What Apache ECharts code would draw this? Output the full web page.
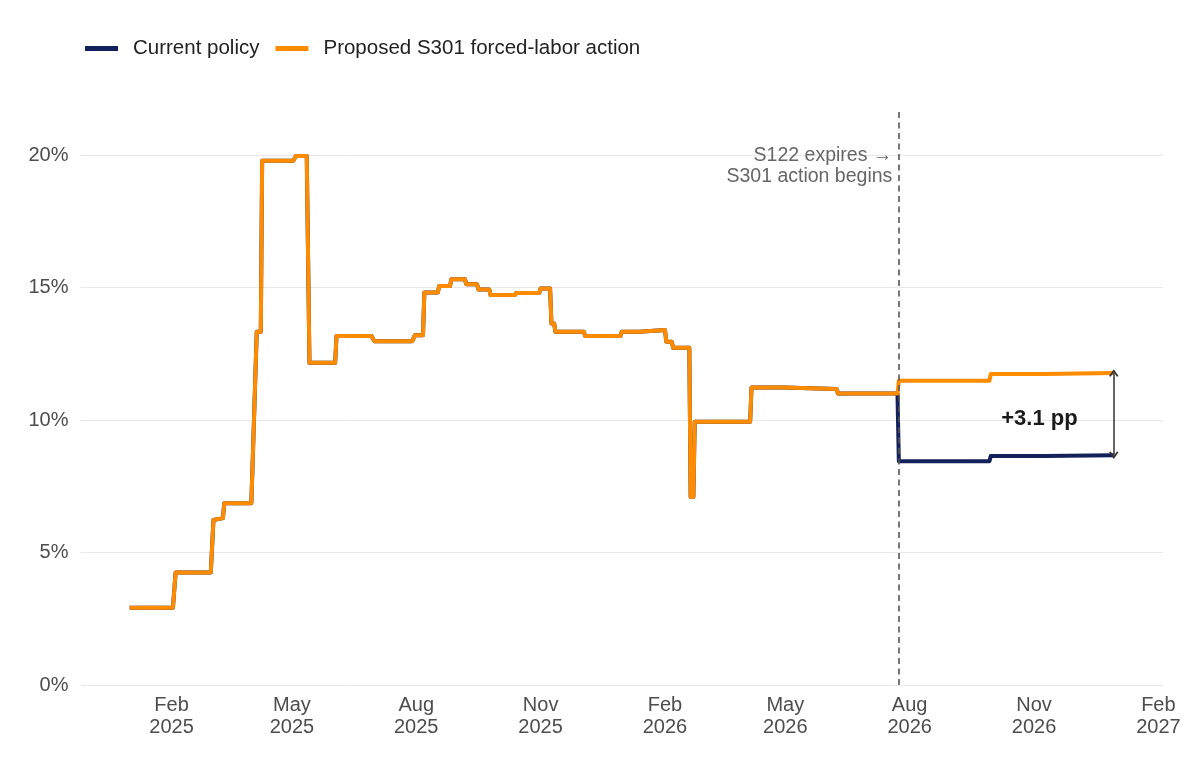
<!DOCTYPE html>
<html>
<head>
<meta charset="utf-8">
<script src="https://cdn.jsdelivr.net/npm/echarts@6/dist/echarts.min.js"></script>
<style>
html,body{margin:0;padding:0;background:#fff;}
#chart{width:1200px;height:766px;}
</style>
</head>
<body>
<div id="chart"></div>
<script>
// ---- Data (effective tariff rate, %) ----
const seriesNames = ['Current policy', 'Proposed S301 forced-labor action'];

// Shared history (both scenarios identical until S122 expiry)
const historyDates = [
  '2025-01-01','2025-02-02','2025-02-04','2025-03-02','2025-03-04','2025-03-05','2025-03-11','2025-03-12',
  '2025-04-01','2025-04-02','2025-04-03','2025-04-05','2025-04-08','2025-04-09','2025-05-02','2025-05-04',
  '2025-05-12','2025-05-14','2025-06-02','2025-06-03','2025-06-29','2025-07-01','2025-07-29','2025-07-31',
  '2025-08-06','2025-08-07','2025-08-17','2025-08-18','2025-08-26','2025-08-27','2025-09-06','2025-09-07',
  '2025-09-15','2025-09-16','2025-09-24','2025-09-25','2025-10-13','2025-10-14','2025-10-31','2025-11-01',
  '2025-11-08','2025-11-09','2025-11-11','2025-11-12','2025-12-03','2025-12-04','2025-12-30','2025-12-31',
  '2026-01-13','2026-01-14','2026-02-01','2026-02-02','2026-02-06','2026-02-07','2026-02-19','2026-02-20',
  '2026-02-22','2026-02-23','2026-04-05','2026-04-06','2026-04-30','2026-05-01','2026-06-08','2026-06-09',
  '2026-07-23'
];
const historyValues = [
  2.92, 2.92, 4.25, 4.25, 6.23, 6.30, 6.30, 6.86,
  6.86, 8.43, 8.43, 13.33, 13.33, 19.79, 19.79, 19.97,
  19.97, 12.16, 12.16, 13.17, 13.17, 12.98, 12.98, 13.20,
  13.20, 14.82, 14.82, 15.06, 15.06, 15.32, 15.32, 15.13,
  15.13, 14.93, 14.93, 14.72, 14.72, 14.80, 14.80, 14.97,
  14.97, 13.65, 13.65, 13.33, 13.33, 13.17, 13.17, 13.33,
  13.33, 13.40, 13.40, 12.96, 12.96, 12.73, 12.73, 7.10,
  7.10, 9.94, 9.94, 11.23, 11.23, 11.17, 11.17, 11.00,
  11.00
];

// Scenario tails after S122 expiry
const tailDates = ['2026-07-24','2026-09-29','2026-09-30','2026-11-09','2026-11-10','2026-12-30'];
const currentTail  = [8.45, 8.45, 8.64, 8.64, 8.67, 8.67];
const proposedTail = [11.48, 11.48, 11.74, 11.74, 11.78, 11.78];

const yTicks = [0, 5, 10, 15, 20];
const xTickDates = ['2025-02-01','2025-05-01','2025-08-01','2025-11-01','2026-02-01','2026-05-01','2026-08-01','2026-11-01','2027-02-01'];
const monthNames = ['Jan','Feb','Mar','Apr','May','Jun','Jul','Aug','Sep','Oct','Nov','Dec'];

const s122Date = '2026-07-24';
const annotationText = 'S122 expires \u2192\nS301 action begins';
const annotationValue = 19.6;
const gapLabel = '+3.1 pp';
const gapLabelDate = '2026-11-05';
const gapLabelValue = 10.06;

// ---- Helpers ----
function ts(s) { const p = s.split('-').map(Number); return Date.UTC(p[0], p[1] - 1, p[2]); }
function zip(dates, vals) { return dates.map((d, i) => [ts(d), vals[i]]); }

const currentData = zip(historyDates, historyValues).concat(zip(tailDates, currentTail));
const proposedData = zip(historyDates, historyValues).concat(zip(tailDates, proposedTail));
const endDate = ts(tailDates[tailDates.length - 1]);

const FONT = '"Liberation Sans", Arial, sans-serif';
const chart = echarts.init(document.getElementById('chart'), null, {renderer: 'canvas'});

const chevron = 'path://M0,8.6 L5,0 L10,8.6 L8.3,9.6 L5,3.9 L1.7,9.6 Z';

chart.setOption({
  animation: false,
  backgroundColor: '#ffffff',
  textStyle: {fontFamily: FONT},
  legend: {
    left: 80, top: 33,
    icon: 'rect', itemWidth: 33, itemHeight: 5, itemGap: 16,
    textStyle: {fontSize: 20.5, color: '#222222', fontFamily: FONT, padding: [0, 0, 0, 10]},
    data: seriesNames
  },
  grid: {left: 81, right: 37, top: 108, bottom: 81, containLabel: false, outerBoundsMode: 'none'},
  xAxis: {
    type: 'value',
    min: Date.UTC(2024, 10, 26, 0),
    max: Date.UTC(2027, 1, 4, 10),
    axisLine: {show: false},
    axisTick: {show: false, customValues: xTickDates.map(ts)},
    splitLine: {show: false},
    axisLabel: {
      customValues: xTickDates.map(ts),
      margin: 9,
      fontSize: 20,
      lineHeight: 22,
      color: '#4d4d4d',
      fontFamily: FONT,
      hideOverlap: false,
      showMinLabel: true, showMaxLabel: true,
      formatter: function (v) { const d = new Date(v); return monthNames[d.getUTCMonth()] + '\n' + d.getUTCFullYear(); }
    }
  },
  yAxis: {
    type: 'value',
    min: 0, max: 21.78, interval: 5,
    axisLine: {show: false},
    axisTick: {show: false, customValues: yTicks},
    splitLine: {show: true, lineStyle: {color: '#e8e8e8', width: 1}},
    axisLabel: {
      customValues: yTicks,
      margin: 12.5,
      fontSize: 20,
      color: '#4d4d4d',
      fontFamily: FONT,
      formatter: function (v) { return v + '%'; }
    }
  },
  series: [
    {
      name: seriesNames[0],
      type: 'line',
      data: currentData,
      showSymbol: false, symbol: 'none',
      color: '#13215a',
      lineStyle: {color: '#13215a', width: 4, cap: 'butt', join: 'round'},
      z: 2,
      markLine: {
        silent: true,
        animation: false,
        symbol: ['circle', 'circle'],
        symbolSize: 0,
        label: {show: false},
        lineStyle: {color: '#555555', width: 1.6, type: [6, 4.5]},
        data: [{xAxis: ts(s122Date)}]
      }
    },
    {
      name: seriesNames[1],
      type: 'line',
      data: proposedData,
      showSymbol: false, symbol: 'none',
      color: '#ff8c00',
      lineStyle: {color: '#ff8c00', width: 4, cap: 'butt', join: 'round'},
      z: 3,
      markLine: {
        silent: true,
        animation: false,
        symbol: [chevron, chevron],
        symbolSize: [9.5, 7.5],
        label: {show: false},
        lineStyle: {color: '#333333', width: 1.5, type: 'solid'},
        data: [
          [
            {coord: [endDate, proposedTail[proposedTail.length - 1]]},
            {coord: [endDate, currentTail[currentTail.length - 1]]}
          ]
        ]
      },
      markPoint: {
        silent: true,
        animation: false,
        data: [
          {
            coord: [ts(s122Date), annotationValue],
            symbol: 'circle', symbolSize: 1,
            itemStyle: {color: 'rgba(0,0,0,0)'},
            label: {
              show: true, position: 'left', distance: 6,
              formatter: annotationText,
              align: 'right',
              fontSize: 19.5, lineHeight: 21, color: '#666666', fontFamily: FONT
            }
          },
          {
            coord: [ts(gapLabelDate), gapLabelValue],
            symbol: 'circle', symbolSize: 1,
            itemStyle: {color: 'rgba(0,0,0,0)'},
            label: {
              show: true, position: 'inside',
              formatter: gapLabel,
              fontSize: 22, fontWeight: 'bold', color: '#1a1a1a', fontFamily: FONT
            }
          }
        ]
      }
    }
  ]
});
</script>
</body>
</html>
